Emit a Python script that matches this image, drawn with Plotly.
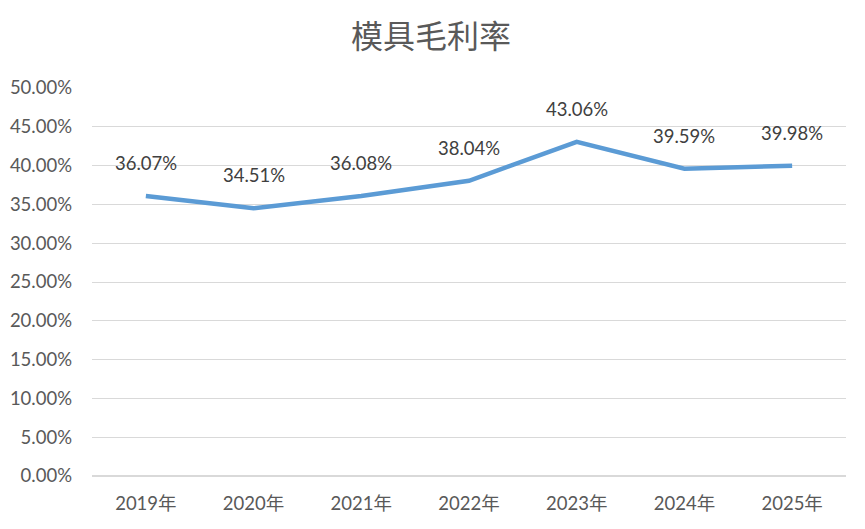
import plotly.graph_objects as go

years = ["2019年", "2020年", "2021年", "2022年", "2023年", "2024年", "2025年"]
margin_pct = [36.07, 34.51, 36.08, 38.04, 43.06, 39.59, 39.98]
y_ticks = [0, 5, 10, 15, 20, 25, 30, 35, 40, 45, 50]
y_tick_text = [f"{v:.2f}%" for v in y_ticks]

font_family = "Lato, 'Noto Sans CJK SC', sans-serif"
text_color = "#595959"

fig = go.Figure()
fig.add_trace(go.Scatter(
    x=years, y=margin_pct, mode="lines",
    line=dict(color="#5B9BD5", width=4.5),
    hoverinfo="skip", showlegend=False,
))
for xv, yv in zip(years, margin_pct):
    fig.add_annotation(x=xv, y=yv, text=f"{yv:.2f}%", showarrow=False,
                       yshift=33, font=dict(size=18.5, color="#404040", family=font_family))

fig.update_layout(
    width=857, height=521,
    margin=dict(l=84, r=19, t=80, b=53, autoexpand=False),
    paper_bgcolor="white", plot_bgcolor="white",
    title=dict(text="模具毛利率", x=423 / 857, xanchor="center", y=1 - 29 / 521, yanchor="middle",
               font=dict(size=32, color=text_color, family="'Noto Sans CJK SC', sans-serif")),
    font=dict(family=font_family, color=text_color, size=18.5),
    xaxis=dict(range=[-0.5, 6.5], showgrid=False, showline=False, ticks="", automargin=False,
               tickfont=dict(size=18.5, color=text_color), ticklabelstandoff=14),
    yaxis=dict(range=[0, 50], tickvals=y_ticks, ticktext=y_tick_text, showgrid=True,
               gridcolor="#D9D9D9", gridwidth=1, zeroline=True, zerolinecolor="#D9D9D9",
               showline=False, ticks="", automargin=False,
               tickfont=dict(size=18.5, color=text_color), ticklabelstandoff=19),
)
fig.write_html("out.html")
